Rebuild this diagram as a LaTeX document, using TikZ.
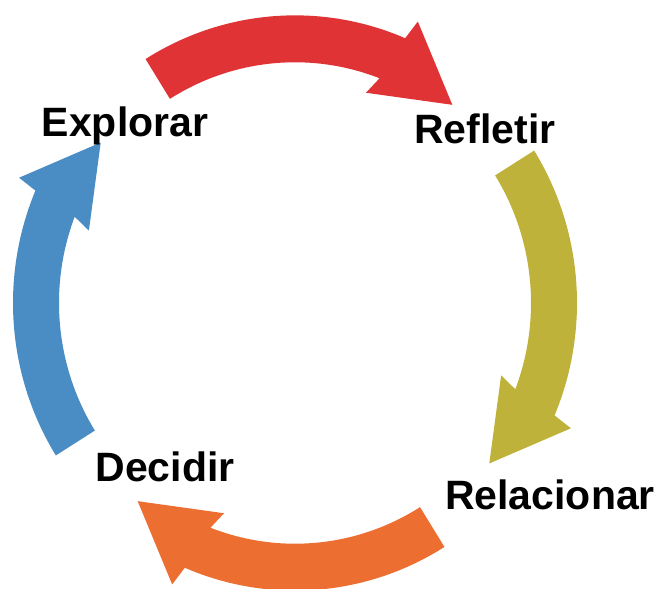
\documentclass[tikz,border=0pt]{standalone}
\usepackage{fontspec}
\setmainfont{Liberation Sans}
\definecolor{cred}{RGB}{224,51,54}
\definecolor{cyel}{RGB}{190,178,58}
\definecolor{cora}{RGB}{236,110,48}
\definecolor{cblu}{RGB}{74,140,196}
\newcommand\cycarrow[2]{%
  \fill[#2] ({#1}:282) arc[start angle={#1}, end angle={#1-55}, radius=282]
    -- ({#1-56}:302) -- ({#1-71}:250) -- ({#1-51}:218) -- ({#1-53}:236)
    arc[start angle={#1-53}, end angle={#1}, radius=236] -- cycle;}
\tikzset{lbl/.style={font=\bfseries\fontsize{30.75}{36}\selectfont, text=black, anchor=base, inner sep=0pt}}
\begin{document}
\begin{tikzpicture}[x=0.75pt,y=0.75pt]
\useasboundingbox (0,0) rectangle (658,589);
\begin{scope}[shift={(295,286)}, yscale=1.02]
  \cycarrow{122}{cred}
  \cycarrow{32}{cyel}
  \cycarrow{-58}{cora}
  \cycarrow{212}{cblu}
\end{scope}
\node[lbl] (explorar) at (125,452) {Explorar};
\node[lbl] (refletir) at (485,445) {Refletir};
\node[lbl] (relacionar) at (550,79) {Relacionar};
\node[lbl] (decidir) at (165,107) {Decidir};
\end{tikzpicture}
\end{document}
